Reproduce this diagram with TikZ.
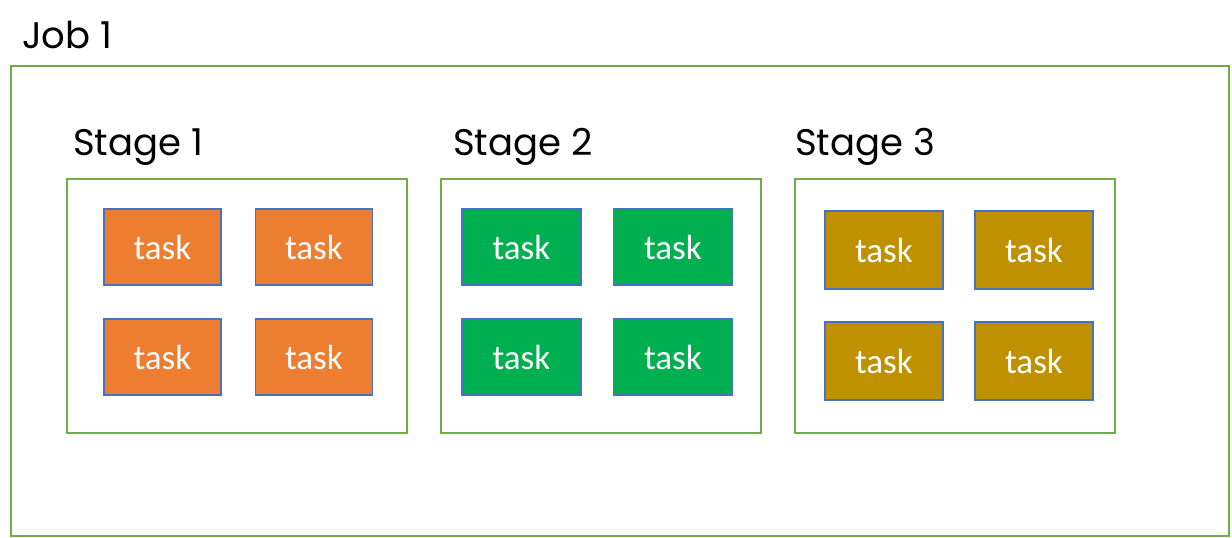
\documentclass[tikz,border=0pt]{standalone}
\usepackage{fontspec}
\newfontfamily\labelfont{Poppins}
\newfontfamily\taskfont{Carlito}
\definecolor{framegreen}{HTML}{70AD47}
\definecolor{taskblue}{HTML}{4472C4}
\definecolor{taskorange}{HTML}{ED7D31}
\definecolor{taskgreen}{HTML}{00B050}
\definecolor{taskgold}{HTML}{BF9000}
\tikzset{
  frame/.style={draw=framegreen, line width=2pt},
  stagebox/.style={draw=framegreen, line width=1.5pt},
  title/.style={anchor=base west, inner sep=0pt, font=\labelfont\fontsize{37}{44}\selectfont},
  taskbox/.style={draw=taskblue, line width=1.6pt, text=white, inner sep=0pt,
    minimum width=117pt, minimum height=76pt, font=\taskfont\fontsize{35}{40}\selectfont},
}
\begin{document}
\begin{tikzpicture}[x=1pt,y=-1pt]
\useasboundingbox (0,0) rectangle (1232,538);
% job frame and title
\draw[frame] (11,66) rectangle (1229,536);
\node[title] (job) at (22,48) {Job 1};
% stage frames
\draw[stagebox] (67,179) rectangle (407,433);
\draw[stagebox] (441,179) rectangle (761,433);
\draw[stagebox] (795,179) rectangle (1115,433);
\node[title] (s1) at (73,155) {Stage 1};
\node[title] (s2) at (453,155) {Stage 2};
\node[title] (s3) at (795,155) {Stage 3};
% stage 1 tasks
\node[taskbox, fill=taskorange] (a1) at (162.5,247) {task};
\node[taskbox, fill=taskorange] (a2) at (314,247) {task};
\node[taskbox, fill=taskorange] (a3) at (162.5,357) {task};
\node[taskbox, fill=taskorange] (a4) at (314,357) {task};
% stage 2 tasks
\node[taskbox, fill=taskgreen, minimum width=119pt] (b1) at (521.5,247) {task};
\node[taskbox, fill=taskgreen, minimum width=119pt] (b2) at (673,247) {task};
\node[taskbox, fill=taskgreen, minimum width=119pt] (b3) at (521.5,357) {task};
\node[taskbox, fill=taskgreen, minimum width=119pt] (b4) at (673,357) {task};
% stage 3 tasks
\node[taskbox, fill=taskgold, minimum width=118pt, minimum height=78pt] (c1) at (884,250) {task};
\node[taskbox, fill=taskgold, minimum width=118pt, minimum height=78pt] (c2) at (1034,250) {task};
\node[taskbox, fill=taskgold, minimum width=118pt, minimum height=78pt] (c3) at (884,361) {task};
\node[taskbox, fill=taskgold, minimum width=118pt, minimum height=78pt] (c4) at (1034,361) {task};
\end{tikzpicture}
\end{document}
